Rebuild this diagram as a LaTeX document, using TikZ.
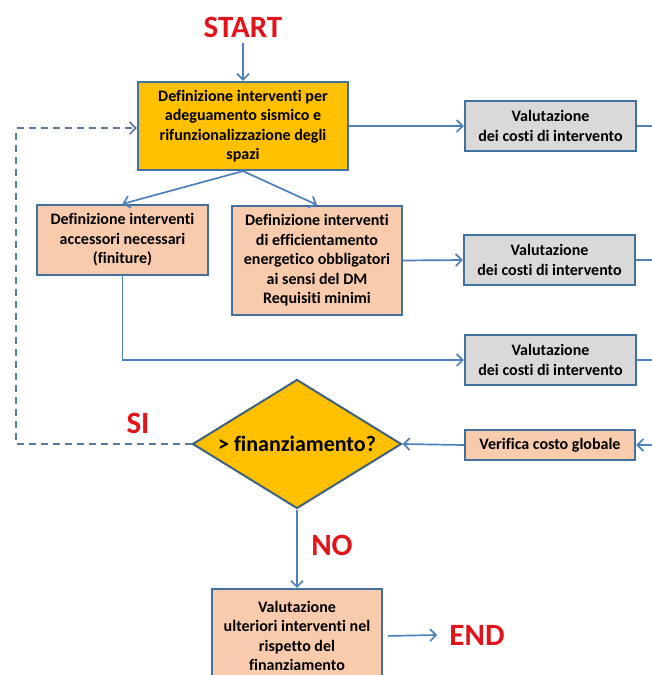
\documentclass[tikz,border=0pt]{standalone}
\usepackage{fontspec}
\setmainfont{Carlito}[Ligatures={NoCommon}]
\usetikzlibrary{arrows.meta,shapes.geometric}
\definecolor{orng}{HTML}{FFC000}
\definecolor{peach}{HTML}{F8CBAD}
\definecolor{grayf}{HTML}{D9D9D9}
\definecolor{bord}{HTML}{41719C}
\definecolor{diab}{HTML}{41627F}
\definecolor{lnk}{HTML}{4F80BA}
\definecolor{dsh}{HTML}{5A7B9B}
\definecolor{redt}{HTML}{E2141B}
\begin{document}
\begin{tikzpicture}[x=1pt,y=-1pt,
  box/.style={draw=bord, line width=2.2pt, align=center, inner sep=0pt,
    font=\fontsize{16}{19.5}\selectfont\bfseries},
  ybox/.style={box, fill=orng},
  pbox/.style={box, fill=peach},
  gbox/.style={box, fill=grayf, minimum width=171pt, minimum height=50pt},
  redlbl/.style={text=redt, font=\fontsize{31}{31}\selectfont\bfseries, inner sep=0pt},
  conn/.style={draw=lnk, line width=1.7pt, -{Straight Barb[length=6pt,width=12pt]}},
  plain/.style={draw=lnk, line width=1.7pt},
  dconn/.style={draw=dsh, line width=1.7pt, dash pattern=on 7pt off 5pt, -{Straight Barb[length=6pt,width=12pt]}}
]
\useasboundingbox (0,0) rectangle (651,675);
\fill[white] (0,0) rectangle (651,675);

% labels
\node[redlbl] (start) at (243,27) {START};
\node[redlbl] (si) at (138,423) {SI};
\node[redlbl] (no) at (332,545) {NO};
\node[redlbl, inner xsep=12pt] (endl) at (477,635) {END};

% boxes
\node[ybox, minimum width=210pt, minimum height=88pt] (b1) at (243,126)
  {Definizione interventi per\\adeguamento sismico e\\rifunzionalizzazione degli\\spazi};
\node[gbox] (g1) at (550.5,126) {Valutazione\\dei costi di intervento};
\node[pbox, minimum width=171pt, minimum height=70pt] (ba) at (122.5,240)
  {Definizione interventi\\accessori necessari\\(finiture)};
\node[pbox, minimum width=170pt, minimum height=109pt] (bb) at (317,260.5)
  {Definizione interventi\\di efficientamento\\energetico obbligatori\\ai sensi del DM\\Requisiti minimi};
\node[gbox] (g2) at (549.5,260) {Valutazione\\dei costi di intervento};
\node[gbox] (g3) at (550.5,360) {Valutazione\\dei costi di intervento};
\node[pbox, minimum width=170pt, minimum height=30pt] (ver) at (550,445) {Verifica costo globale};
\node[diamond, draw=diab, fill=orng, line width=2pt, inner sep=0pt,
  minimum width=209pt, minimum height=129pt] (dia) at (297,444) {};
\node[font=\fontsize{22}{24}\selectfont\bfseries, inner sep=0pt] (diat) at (297,444) {> finanziamento?};
\node[pbox, minimum width=170pt, minimum height=94pt] (fin) at (297,636)
  {Valutazione\\ulteriori interventi nel\\rispetto del\\finanziamento};

% free ends at the right edge and dashed loop corners
\coordinate (r1) at (653,126);
\coordinate (r2) at (653,260);
\coordinate (r3) at (653,360);
\coordinate (rv) at (653,445);
\coordinate (dl) at (16,444);
\coordinate (ul) at (16,128);

% connectors
\draw[conn, shorten <=6pt] (start) -- (b1);
\draw[conn] (b1.east) -- (g1.west);
\draw[conn] (b1.south) -- (ba.north);
\draw[conn] (b1.south) -- (bb.north);
\draw[conn] (bb.east) -- (g2.west);
\draw[conn] (ba.south) |- (g3.west);
\draw[plain] (g1.east) -- (r1);
\draw[plain] (g2.east) -- (r2);
\draw[plain] (g3.east) -- (r3);
\draw[conn] (rv) -- (ver.east);
\draw[conn] (ver.west) -- (dia.east);
\draw[conn] (dia.south) -- (fin.north);
\draw[conn, shorten <=5pt] (fin.east) -- (endl.west);
\draw[dconn] (dia.west) -- (dl) -- (ul) -- (ul -| b1.west);
\end{tikzpicture}
\end{document}
